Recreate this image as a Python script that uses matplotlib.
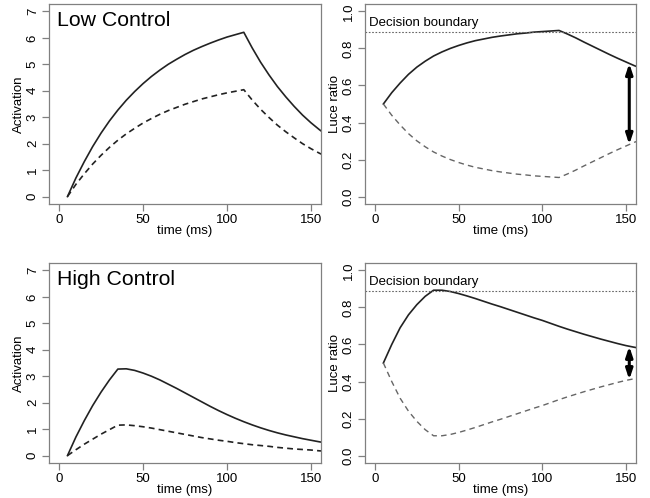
import numpy as np
import matplotlib
matplotlib.use("Agg")
import matplotlib.pyplot as plt

plt.rcParams['font.family'] = ['Liberation Sans', 'DejaVu Sans']

# -------------------- DATOS --------------------
times = [5, 10, 15, 20, 25, 30, 35, 40, 45, 50, 55, 60, 65, 70, 75, 80,
         85, 90, 95, 100, 105, 110, 115, 120, 125, 130, 135, 140, 145, 150, 155, 160]

# Low control: activacion (objetivo / competidor)
act_low_target = [0, 0.70, 1.32, 1.89, 2.40, 2.86, 3.27, 3.64, 3.97, 4.27, 4.54, 4.78,
                  5.00, 5.19, 5.37, 5.53, 5.67, 5.80, 5.92, 6.03, 6.12, 6.21, 5.62, 5.08,
                  4.60, 4.16, 3.77, 3.41, 3.08, 2.79, 2.53, 2.29]
act_low_comp = [0, 0.46, 0.86, 1.23, 1.56, 1.86, 2.13, 2.37, 2.58, 2.78, 2.95, 3.11,
                3.25, 3.37, 3.49, 3.59, 3.69, 3.77, 3.85, 3.92, 3.98, 4.04, 3.65, 3.30,
                2.99, 2.70, 2.45, 2.22, 2.00, 1.81, 1.64, 1.49]

# Low control: Luce ratio
luce_low_target = [0.5, 0.561, 0.613, 0.660, 0.699, 0.731, 0.759, 0.781, 0.800, 0.816, 0.830,
                   0.842, 0.851, 0.860, 0.867, 0.873, 0.879, 0.883, 0.888, 0.891, 0.894, 0.897,
                   0.878, 0.857, 0.834, 0.812, 0.790, 0.768, 0.747, 0.727, 0.707, 0.690]
luce_low_comp = [0.5, 0.439, 0.387, 0.340, 0.301, 0.269, 0.241, 0.219, 0.200, 0.184, 0.170,
                 0.158, 0.149, 0.140, 0.133, 0.127, 0.121, 0.117, 0.112, 0.109, 0.106, 0.103,
                 0.122, 0.143, 0.166, 0.188, 0.210, 0.232, 0.253, 0.273, 0.293, 0.310]

# High control: activacion
act_high_target = [0, 0.70, 1.32, 1.89, 2.40, 2.86, 3.27, 3.28, 3.22, 3.12, 3.00, 2.86,
                   2.70, 2.54, 2.37, 2.20, 2.03, 1.86, 1.70, 1.55, 1.41, 1.28, 1.16, 1.05,
                   0.95, 0.86, 0.78, 0.71, 0.64, 0.58, 0.52, 0.47]
act_high_comp = [0, 0.22, 0.43, 0.62, 0.81, 0.98, 1.15, 1.16, 1.13, 1.09, 1.04, 0.98,
                 0.92, 0.86, 0.80, 0.74, 0.68, 0.63, 0.58, 0.54, 0.49, 0.45, 0.41, 0.38,
                 0.35, 0.31, 0.28, 0.25, 0.23, 0.21, 0.18, 0.16]

# High control: Luce ratio
luce_high_target = [0.5, 0.60, 0.69, 0.76, 0.815, 0.86, 0.893, 0.893, 0.886, 0.875, 0.862,
                    0.848, 0.833, 0.818, 0.804, 0.789, 0.774, 0.759, 0.744, 0.730, 0.714,
                    0.698, 0.683, 0.669, 0.655, 0.642, 0.629, 0.617, 0.605, 0.594, 0.585, 0.577]
luce_high_comp = [0.5, 0.40, 0.31, 0.24, 0.185, 0.14, 0.107, 0.107, 0.114, 0.125, 0.138,
                  0.152, 0.167, 0.182, 0.196, 0.211, 0.226, 0.241, 0.256, 0.270, 0.286,
                  0.302, 0.317, 0.331, 0.345, 0.358, 0.371, 0.383, 0.395, 0.406, 0.415, 0.423]

decision_boundary = 0.89
arrow_time = 152
panel_titles = ["Low Control", "High Control"]

# -------------------- FIGURA --------------------
fig = plt.figure(figsize=(6.5, 4.98), dpi=100)

box_col = '#808080'
fs = 9.5


def estilo(ax, ylim, yticks, ylabels, ylab):
    ax.set_xlim(-6, 156)
    ax.set_ylim(*ylim)
    ax.set_xticks([0, 50, 100, 150])
    ax.set_yticks(yticks)
    ax.set_yticklabels(ylabels, rotation=90, va='center')
    for sp in ax.spines.values():
        sp.set_color(box_col)
        sp.set_linewidth(0.9)
    ax.tick_params(direction='out', length=4.8, width=0.9, color=box_col,
                   labelsize=fs, pad=2.5)
    ax.text(0.5, -0.135, "time (ms)", transform=ax.transAxes, ha='center',
            va='center', fontsize=fs)
    ax.text(-0.112, 0.5, ylab, transform=ax.transAxes, ha='center',
            va='center', rotation=90, fontsize=fs)


filas = [
    (0.5904, act_low_target, act_low_comp, luce_low_target, luce_low_comp),
    (0.0703, act_high_target, act_high_comp, luce_high_target, luce_high_comp),
]

for i, (bottom, a_t, a_c, l_t, l_c) in enumerate(filas):
    # Activacion
    ax1 = fig.add_axes([0.0754, bottom, 0.4185, 0.4016])
    ax1.plot(times, a_t, color='#222222', lw=1.2)
    ax1.plot(times, a_c, color='#222222', lw=1.2, dashes=(3.5, 2.5))
    estilo(ax1, (-0.28, 7.28), range(8), [str(v) for v in range(8)], "Activation")
    ax1.text(0.028, 0.965, panel_titles[i], transform=ax1.transAxes, ha='left',
             va='top', fontsize=15.3)

    # Luce ratio
    ax2 = fig.add_axes([0.5615, bottom, 0.4169, 0.4016])
    ax2.plot(times, l_t, color='#222222', lw=1.2)
    ax2.plot(times, l_c, color='#666666', lw=1.0, dashes=(4, 3))
    ax2.axhline(decision_boundary, color='#666666', lw=0.8, dashes=(1.5, 1.5))
    ax2.text(0.015, decision_boundary + 0.015, "Decision boundary",
             transform=ax2.get_yaxis_transform(), ha='left', va='bottom', fontsize=fs)
    y_top = np.interp(arrow_time, times, l_t)
    y_bot = np.interp(arrow_time, times, l_c)
    ax2.annotate('', xy=(arrow_time, y_bot), xytext=(arrow_time, y_top),
                 arrowprops=dict(arrowstyle='<|-|>,head_length=0.6,head_width=0.2',
                                 lw=2.2, color='black',
                                 mutation_scale=10, shrinkA=0, shrinkB=0))
    estilo(ax2, (-0.04, 1.04), [0, 0.2, 0.4, 0.6, 0.8, 1.0],
           ["0.0", "0.2", "0.4", "0.6", "0.8", "1.0"], "Luce ratio")

fig.savefig("out.png", dpi=100)
